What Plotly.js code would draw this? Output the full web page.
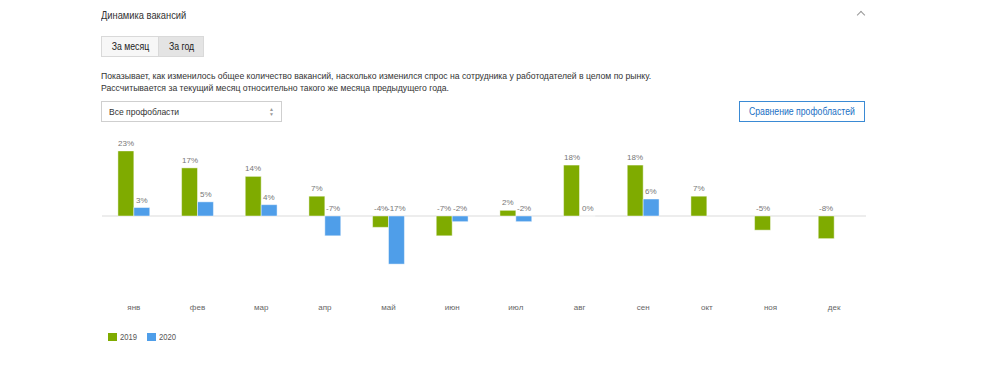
<!DOCTYPE html>
<html>
<head>
<meta charset="utf-8">
<script src="https://cdn.plot.ly/plotly-3.0.1.min.js"></script>
<style>
  html,body{margin:0;padding:0;background:#fff;width:1000px;height:371px;overflow:hidden;font-family:"Liberation Sans",Arial,sans-serif;color:#333;}
  #chart{position:absolute;left:0;top:0;width:1000px;height:371px;}
  .abs{position:absolute;}
  .nx{display:inline-block;transform:scaleX(0.87);transform-origin:left center;white-space:nowrap;}
  .nxc{display:inline-block;transform:scaleX(0.87);transform-origin:center center;white-space:nowrap;}
  #title{left:101px;top:8px;font-size:10.6px;line-height:14px;color:#333;}
  #chev{left:858px;top:12px;width:5px;height:5px;border-left:1px solid #999;border-top:1px solid #999;transform:rotate(45deg);}
  .tab{top:36px;height:19px;line-height:19px;font-size:10px;border:1px solid #d9d9d9;text-align:center;color:#222;}
  #tab1{left:101px;width:56px;background:#f7f7f7;}
  #tab2{left:158px;width:44px;background:#e4e4e4;}
  .desc{left:101px;font-size:9.95px;color:#333;white-space:nowrap;}
  #sel{left:101px;top:101px;width:179px;height:19px;border:1px solid #cfcfcf;font-size:9.8px;line-height:19px;}
  #sel span.t{position:absolute;left:7px;}
  #sel i{position:absolute;right:7px;top:0;font-style:normal;font-size:5px;line-height:5px;color:#999;padding-top:5px;}
  #cmp{left:739px;top:101px;width:124px;height:19px;border:1px solid #3a8ad4;color:#1a6fc4;font-size:10px;line-height:19px;text-align:center;}
  .leg{top:333px;width:9px;height:8px;}
  .legt{top:332px;font-size:8.8px;color:#555;}
</style>
</head>
<body>
<div id="chart"></div>
<div class="abs" id="title"><span class="nx" style="transform:scaleX(0.88)">Динамика вакансий</span></div>
<div class="abs" id="chev"></div>
<div class="abs tab" id="tab1"><span class="nxc">За месяц</span></div>
<div class="abs tab" id="tab2"><span class="nxc">За год</span></div>
<div class="abs desc" style="top:70px"><span class="nx">Показывает, как изменилось общее количество вакансий, насколько изменился спрос на сотрудника у работодателей в целом по рынку.</span></div>
<div class="abs desc" style="top:82px"><span class="nx">Рассчитывается за текущий месяц относительно такого же месяца предыдущего года.</span></div>
<div class="abs" id="sel"><span class="t"><span class="nx">Все профобласти</span></span><i>▲<br>▼</i></div>
<div class="abs" id="cmp"><span class="nxc">Сравнение профобластей</span></div>
<div class="abs leg" style="left:108px;background:#7fab00;"></div>
<div class="abs legt" style="left:120px;"><span class="nx">2019</span></div>
<div class="abs leg" style="left:147px;background:#4f9ee9;"></div>
<div class="abs legt" style="left:159px;"><span class="nx">2020</span></div>
<script>
const months = ["янв","фев","мар","апр","май","июн","июл","авг","сен","окт","ноя","дек"];
const series2019 = [23, 17, 14, 7, -4, -7, 2, 18, 18, 7, -5, -8];
const series2020 = [3, 5, 4, -7, -17, -2, -2, 0, 6, null, null, null];
const seriesNames = ["2019", "2020"];
const colors = ["#7fab00", "#4f9ee9"];

const traces = [series2019, series2020].map((vals, i) => ({
  type: "bar",
  name: seriesNames[i],
  x: months,
  y: vals,
  marker: {color: colors[i], line: {color: "rgba(255,255,255,0.45)", width: 1}},
  hoverinfo: "none",
  showlegend: false
}));

const annotations = [];
[series2019, series2020].forEach((vals, i) => {
  vals.forEach((v, j) => {
    if (v === null) return;
    annotations.push({
      x: months[j], y: Math.max(v, 0), xref: "x", yref: "y",
      text: v + "%", showarrow: false, yanchor: "bottom",
      xshift: i === 0 ? -8 : 8, yshift: 1,
      font: {family: "Liberation Sans, Arial, sans-serif", size: 8, color: "#777"}
    });
  });
});

const layout = {
  width: 1000, height: 371,
  margin: {l: 102, r: 134, t: 130, b: 81},
  paper_bgcolor: "rgba(0,0,0,0)", plot_bgcolor: "rgba(0,0,0,0)",
  barmode: "group", bargap: 0.5, bargroupgap: 0,
  xaxis: {
    type: "category", showgrid: false, showline: false, zeroline: false,
    ticks: "outside", ticklen: 9, tickcolor: "rgba(0,0,0,0)",
    tickfont: {family: "Liberation Sans, Arial, sans-serif", size: 8, color: "#666"}
  },
  yaxis: {
    range: [-26.15, 30.39], showgrid: false, showticklabels: false,
    zeroline: true, zerolinecolor: "#ededed", zerolinewidth: 1.5, showline: false
  },
  annotations: annotations,
  showlegend: false,
  font: {family: "Liberation Sans, Arial, sans-serif"}
};
Plotly.newPlot("chart", traces, layout, {staticPlot: true, displayModeBar: false});
</script>
</body>
</html>
